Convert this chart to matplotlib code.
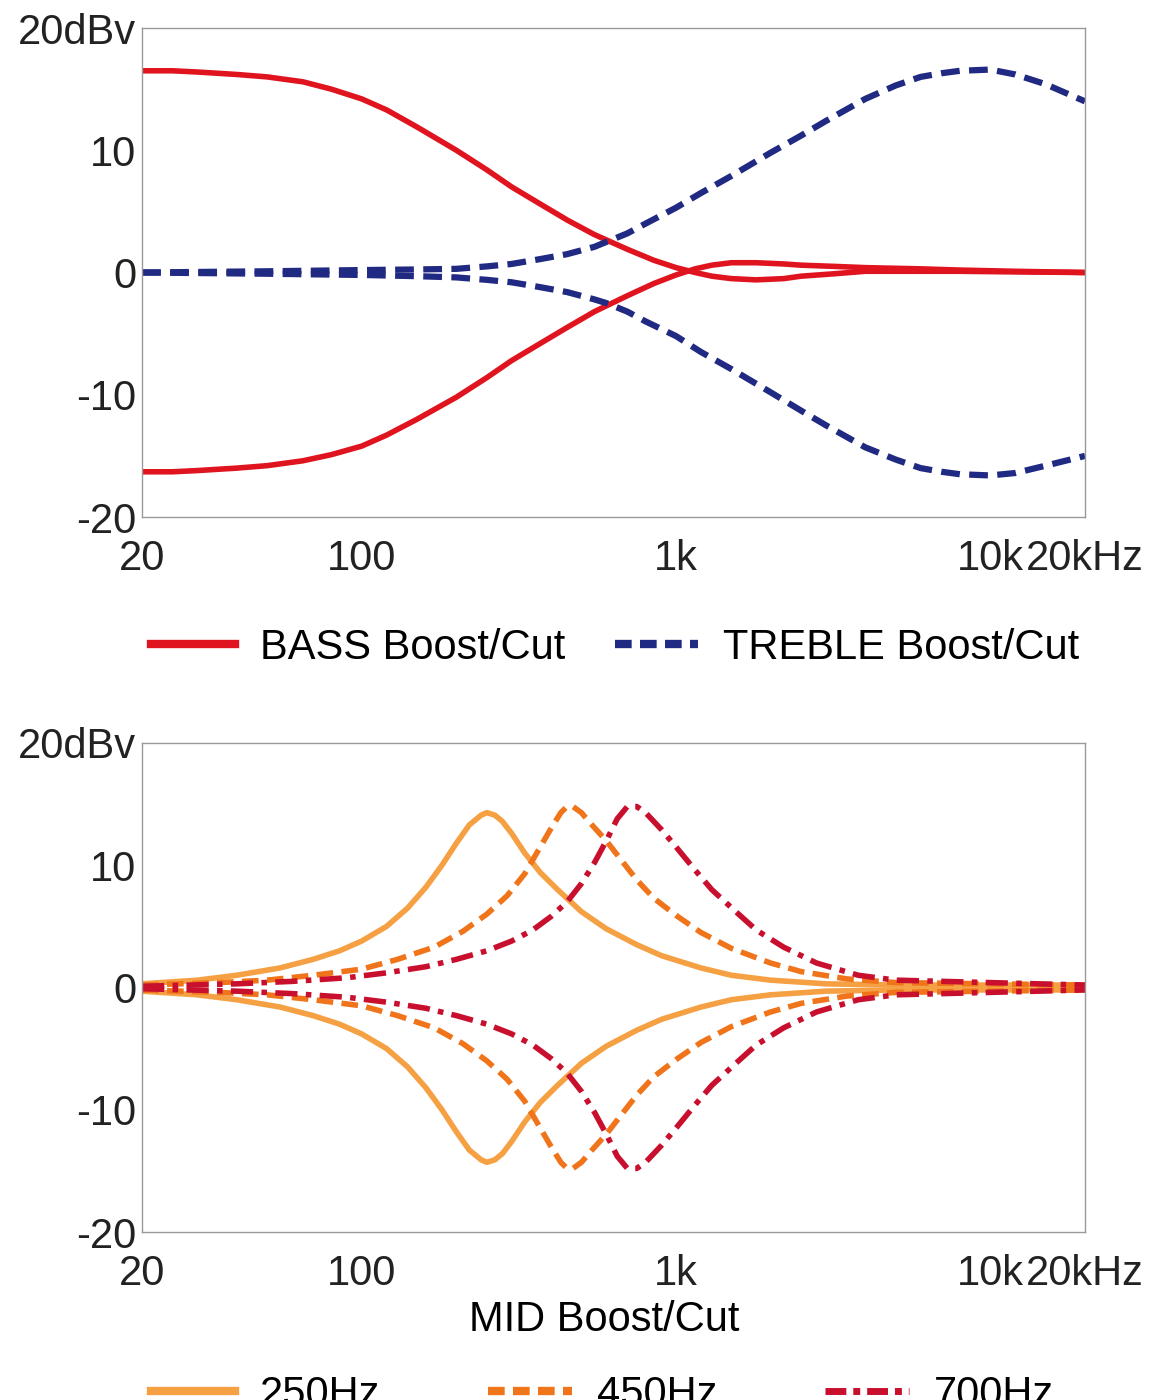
import matplotlib
matplotlib.use('Agg')
import matplotlib.pyplot as plt
from matplotlib.lines import Line2D

plt.rcParams['font.family'] = ['Liberation Sans', 'DejaVu Sans']

# top chart data
bass_f = [20, 25, 30, 40, 50, 65, 80, 100, 120, 150, 200, 250, 300, 370, 450, 550, 700, 850, 1000,
          1150, 1300, 1500, 1800, 2200, 2500, 3200, 4000, 6000, 8000, 12000, 20000]
bass_boost = [16.5, 16.5, 16.4, 16.2, 16.0, 15.6, 15.0, 14.2, 13.3, 11.9, 10.0, 8.4, 7.0, 5.6, 4.3, 3.1, 1.9, 1.0, 0.4,
              0.0, -0.3, -0.5, -0.6, -0.5, -0.3, -0.1, 0.1, 0.1, 0.1, 0.05, 0.0]
bass_cut = [-16.3, -16.3, -16.2, -16.0, -15.8, -15.4, -14.9, -14.2, -13.3, -12.0, -10.2, -8.6, -7.2, -5.8, -4.5, -3.2, -1.9, -0.9, -0.2,
            0.3, 0.6, 0.8, 0.8, 0.7, 0.6, 0.5, 0.4, 0.3, 0.2, 0.1, 0.0]
treb_f = [20, 50, 100, 150, 200, 250, 300, 370, 450, 550, 600, 700, 800, 1000, 1200, 1500, 2000, 2500, 3000, 4000,
          5000, 6000, 7000, 8000, 10000, 12000, 15000, 20000]
treb_boost = [0.0, 0.1, 0.2, 0.25, 0.3, 0.5, 0.7, 1.1, 1.5, 2.1, 2.5, 3.2, 4.0, 5.3, 6.5, 7.9, 9.8, 11.2, 12.4, 14.2,
              15.3, 16.0, 16.3, 16.5, 16.6, 16.2, 15.4, 14.0]
treb_cut = [0.0, -0.1, -0.2, -0.3, -0.4, -0.6, -0.8, -1.2, -1.6, -2.2, -2.5, -3.2, -4.0, -5.2, -6.5, -7.9, -9.8, -11.3, -12.5, -14.3,
            -15.3, -16.0, -16.3, -16.5, -16.6, -16.4, -15.8, -15.0]

# bottom chart data
f250 = [20, 30, 40, 55, 70, 85, 100, 120, 140, 160, 180, 200, 220, 240, 250, 265, 280, 300, 330, 370, 420, 500,
        600, 750, 900, 1200, 1500, 2000, 3000, 5000, 20000]
g250 = [0.3, 0.6, 1.0, 1.6, 2.3, 3.0, 3.8, 5.0, 6.5, 8.2, 10.0, 11.8, 13.3, 14.1, 14.3, 14.1, 13.6, 12.6, 11.0, 9.4, 8.0, 6.2,
        4.8, 3.5, 2.6, 1.6, 1.0, 0.6, 0.3, 0.2, 0.2]
f450 = [20, 35, 50, 70, 100, 130, 170, 210, 250, 290, 330, 370, 400, 430, 450, 470, 500, 540, 600, 680, 750, 850,
        1000, 1200, 1500, 2000, 2500, 3500, 5000, 20000]
g450 = [0.2, 0.4, 0.6, 1.0, 1.5, 2.3, 3.3, 4.6, 6.0, 7.5, 9.3, 11.5, 13.0, 14.3, 14.8, 14.8, 14.3, 13.3, 12.0, 10.2, 8.8, 7.3,
        5.9, 4.5, 3.2, 2.0, 1.3, 0.7, 0.4, 0.2]
f700 = [20, 40, 60, 90, 120, 160, 200, 250, 300, 350, 400, 450, 500, 550, 600, 650, 700, 750, 800, 900, 1000,
        1150, 1300, 1550, 1800, 2200, 2800, 3800, 5000, 20000]
g700 = [0.1, 0.3, 0.5, 0.8, 1.2, 1.7, 2.3, 3.0, 3.8, 4.7, 5.8, 7.0, 8.5, 10.2, 12.0, 13.8, 14.8, 14.8, 14.3, 12.9, 11.5,
        9.6, 8.0, 6.2, 4.7, 3.3, 2.0, 1.0, 0.6, 0.2]

xticks = [20, 100, 1000, 10000, 20000]
xlabels = ['20', '100', '1k', '10k', '20kHz']
yticks = [-20, -10, 0, 10, 20]
ylabels = ['-20', '-10', '0', '10', '20dBv']

RED = '#e0141f'
NAVY = '#202a82'
C250 = '#f5a043'
C450 = '#f0741a'
C700 = '#c8102e'


def style_axes(ax):
    ax.set_xscale('log')
    ax.set_xlim(20, 20000)
    ax.set_ylim(-20, 20)
    ax.set_xticks(xticks)
    ax.set_xticklabels(xlabels)
    ax.xaxis.set_minor_locator(matplotlib.ticker.NullLocator())
    ax.set_yticks(yticks)
    ax.set_yticklabels(ylabels)
    ax.tick_params(labelsize=30, length=0, colors='#222222')
    ax.tick_params(axis='x', pad=16)
    ax.tick_params(axis='y', pad=4)
    for s in ax.spines.values():
        s.set_color('#999999')
        s.set_linewidth(1.0)


fig = plt.figure(figsize=(11.67, 14), dpi=100)

ax1 = fig.add_axes([0.1217, 0.6307, 0.808, 0.3493])
ax1.plot(bass_f, bass_boost, color=RED, lw=4)
ax1.plot(bass_f, bass_cut, color=RED, lw=4)
ax1.plot(treb_f, treb_boost, color=NAVY, lw=4.5, ls=(0, (3, 1.5)))
ax1.plot(treb_f, treb_cut, color=NAVY, lw=4.5, ls=(0, (3, 1.5)))
style_axes(ax1)
h1 = [Line2D([], [], color=RED, lw=6), Line2D([], [], color=NAVY, lw=6, ls=(0, (2, 1)))]
ax1.legend(h1, ['BASS Boost/Cut', 'TREBLE Boost/Cut'], loc='upper left',
           bbox_to_anchor=(-0.03, -0.15), ncol=2, frameon=False, fontsize=30,
           handlelength=2.0, handletextpad=0.6, columnspacing=1.2)

ax2 = fig.add_axes([0.1217, 0.12, 0.808, 0.3493])
for f, g, c, ls in [(f250, g250, C250, '-'), (f450, g450, C450, (0, (3, 1.5))),
                    (f700, g700, C700, (0, (4, 1.5, 1, 1.5)))]:
    ax2.plot(f, g, color=c, lw=4, ls=ls)
    ax2.plot(f, [-v for v in g], color=c, lw=4, ls=ls)
style_axes(ax2)
ax2.text(0.49, -0.14, 'MID Boost/Cut', transform=ax2.transAxes, ha='center', va='top', fontsize=30)
h2 = [Line2D([], [], color=C250, lw=6), Line2D([], [], color=C450, lw=6, ls=(0, (2, 1))),
      Line2D([], [], color=C700, lw=5, ls=(0, (3, 1, 1, 1)))]
ax2.legend(h2, ['250Hz', '450Hz', '700Hz'], loc='upper left',
           bbox_to_anchor=(-0.03, -0.215), ncol=3, frameon=False, fontsize=30,
           handlelength=2.0, handletextpad=0.6, columnspacing=2.6)

fig.savefig('out.png', dpi=100)
